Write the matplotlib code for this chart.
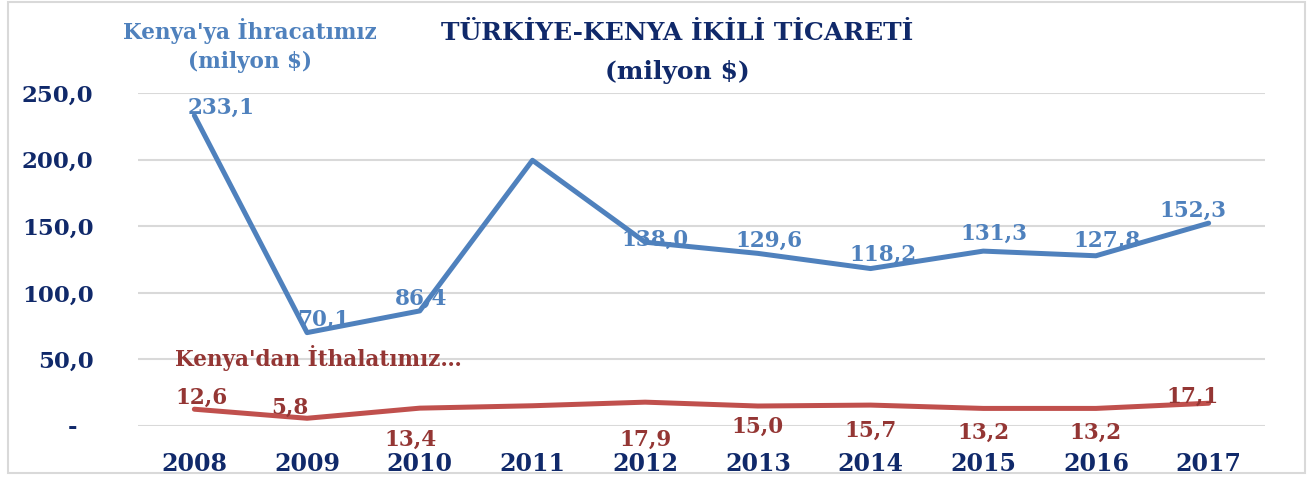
import matplotlib
matplotlib.use("Agg")
from matplotlib import pyplot as plt
from matplotlib.patches import Rectangle

# data
years = ['2008', '2009', '2010', '2011', '2012', '2013', '2014', '2015', '2016', '2017']
exports = [233.1, 70.1, 86.4, 199.5, 138.0, 129.6, 118.2, 131.3, 127.8, 152.3]
imports = [12.6, 5.8, 13.4, 15.2, 17.9, 15.0, 15.7, 13.2, 13.2, 17.1]
show_export_label = [True, True, True, False, True, True, True, True, True, True]
show_import_label = [True, True, True, False, True, True, True, True, True, True]
yticks = [0, 50, 100, 150, 200, 250]

# label offsets in pixels (dx, dy)
exp_offsets = [(27, 8), (16, 13), (1, 12), (0, 0), (10, 2), (11, 13), (12, 14), (11, 17), (11, 15), (-16, 12)]
imp_offsets = [(7, 11), (-17, 10), (-9, -32), (0, 0), (0, -38), (0, -21), (0, -26), (0, -24), (0, -24), (-16, 6)]

navy = '#10296A'
blue = '#4F81BD'
red = '#C0504D'
blue_txt = '#4F81BD'
red_txt = '#943634'
font = 'DejaVu Serif'

plt.rcParams['font.family'] = font
plt.rcParams['font.weight'] = 'bold'

fig = plt.figure(figsize=(13.16, 4.8), dpi=100)
ax = fig.add_axes([138 / 1316, 54 / 480, 1127 / 1316, 333 / 480])

x = list(range(len(years)))
ax.plot(x, exports, color=blue, lw=3.6, solid_capstyle='round', zorder=3)
ax.plot(x, imports, color=red, lw=3.6, solid_capstyle='round', zorder=3)

def fmt(v):
    return ('%.1f' % v).replace('.', ',')

for i, v in enumerate(exports):
    if show_export_label[i]:
        dx, dy = exp_offsets[i]
        ax.annotate(fmt(v), (i, v), xytext=(dx, dy), textcoords='offset pixels',
                    ha='center', va='center', color=blue_txt, fontsize=15.5,
                    fontweight='bold', zorder=4)
for i, v in enumerate(imports):
    if show_import_label[i]:
        dx, dy = imp_offsets[i]
        ax.annotate(fmt(v), (i, v), xytext=(dx, dy), textcoords='offset pixels',
                    ha='center', va='center', color=red_txt, fontsize=15.5,
                    fontweight='bold', zorder=4)

ax.set_xlim(-0.5, len(years) - 0.5)
ax.set_ylim(0, 250)
ax.set_yticks(yticks)
ax.set_yticklabels(['-  '] + [fmt(t) for t in yticks[1:]])
ax.set_xticks(x)
ax.set_xticklabels(years)
ax.tick_params(axis='y', length=0, pad=32, labelsize=16.5, labelcolor=navy)
ax.tick_params(axis='x', length=0, pad=19, labelsize=17, labelcolor=navy)
for s in ax.spines.values():
    s.set_visible(False)
ax.grid(axis='y', color='#D9D9D9', lw=1.5)
ax.set_axisbelow(True)

# title and series names
fig.text(677 / 1316, 1 - 33 / 480, 'TÜRKİYE-KENYA İKİLİ TİCARETİ', ha='center', va='center',
         color=navy, fontsize=18, fontweight='bold')
fig.text(677 / 1316, 1 - 72 / 480, '(milyon $)', ha='center', va='center',
         color=navy, fontsize=18, fontweight='bold')
fig.text(250 / 1316, 1 - 31 / 480, "Kenya'ya İhracatımız", ha='center', va='center',
         color=blue_txt, fontsize=15.5, fontweight='bold')
fig.text(250 / 1316, 1 - 62 / 480, '(milyon $)', ha='center', va='center',
         color=blue_txt, fontsize=15.5, fontweight='bold')
fig.text(175 / 1316, 1 - 358 / 480, "Kenya'dan İthalatımız…", ha='left', va='center',
         color=red_txt, fontsize=15.5, fontweight='bold')

fig.patches.append(Rectangle((8 / 1316, 1 - 473 / 480), 1297 / 1316, 471 / 480,
                             transform=fig.transFigure, fill=False, ec='#D9D9D9', lw=1.5))

fig.savefig('out.png', dpi=100)
